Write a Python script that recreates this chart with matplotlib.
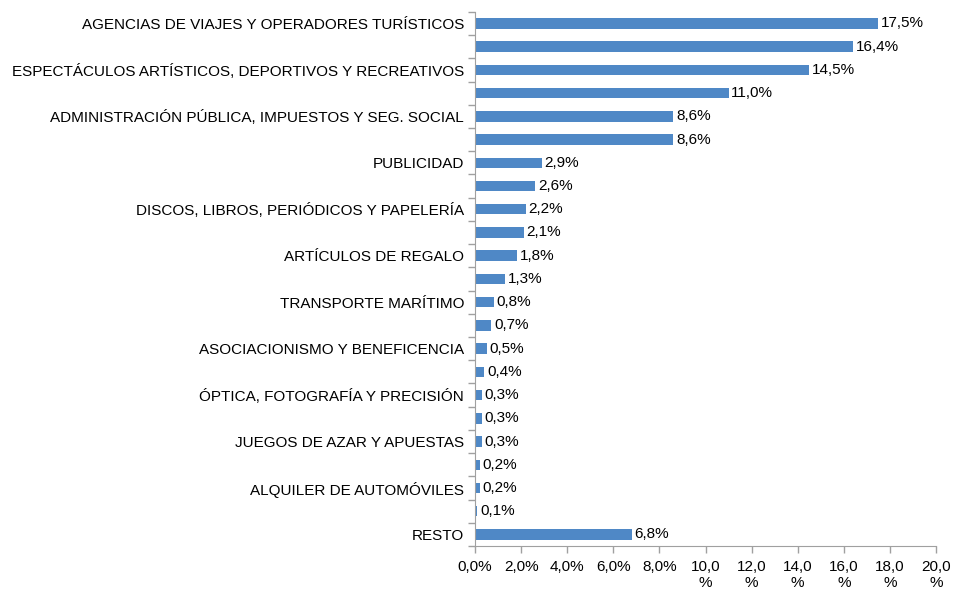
import matplotlib.pyplot as plt
from matplotlib.ticker import FixedLocator

plt.rcParams["font.family"] = ["Liberation Sans", "DejaVu Sans"]

# categories top to bottom (every other name is not printed in the original)
categories = [
    "AGENCIAS DE VIAJES Y OPERADORES TURÍSTICOS", "",
    "ESPECTÁCULOS ARTÍSTICOS, DEPORTIVOS Y RECREATIVOS", "",
    "ADMINISTRACIÓN PÚBLICA, IMPUESTOS Y SEG. SOCIAL", "",
    "PUBLICIDAD", "",
    "DISCOS, LIBROS, PERIÓDICOS Y PAPELERÍA", "",
    "ARTÍCULOS DE REGALO", "",
    "TRANSPORTE MARÍTIMO", "",
    "ASOCIACIONISMO Y BENEFICENCIA", "",
    "ÓPTICA, FOTOGRAFÍA Y PRECISIÓN", "",
    "JUEGOS DE AZAR Y APUESTAS", "",
    "ALQUILER DE AUTOMÓVILES", "",
    "RESTO",
]
values = [17.5, 16.4, 14.5, 11.0, 8.6, 8.6, 2.9, 2.6, 2.2, 2.1, 1.8, 1.3,
          0.8, 0.7, 0.5, 0.4, 0.3, 0.3, 0.3, 0.2, 0.2, 0.1, 6.8]
xticks = [0, 2, 4, 6, 8, 10, 12, 14, 16, 18, 20]
xticklabels = ["0,0%", "2,0%", "4,0%", "6,0%", "8,0%", "10,0\n%", "12,0\n%",
               "14,0\n%", "16,0\n%", "18,0\n%", "20,0\n%"]

fs = 11

fig = plt.figure(figsize=(9.56, 5.91), dpi=100)
ax = fig.add_axes([0.497, 0.076, 0.482, 0.904])

n = len(values)
ypos = list(range(n))
ax.barh(ypos, values, height=0.45, color="#4F88C6")
ax.set_ylim(n - 0.5, -0.5)
ax.set_xlim(0, 20)

for y, v in zip(ypos, values):
    ax.annotate(f"{v:.1f}%".replace(".", ","), (v, y), xytext=(2, 0),
                textcoords="offset points", va="center", ha="left",
                fontsize=fs, color="#000000")

ax.set_yticks(ypos)
ax.set_yticklabels(categories, fontsize=fs)
ax.tick_params(axis="y", length=0, pad=8)
ax.yaxis.set_minor_locator(FixedLocator([i - 0.5 for i in range(n + 1)]))
ax.tick_params(axis="y", which="minor", length=5, color="#A0A0A0", width=1)

ax.set_xticks(xticks)
ax.set_xticklabels(xticklabels, fontsize=fs, linespacing=1.2, va="top")
ax.tick_params(axis="x", length=5, color="#A0A0A0", width=1, pad=5)

for s in ["top", "right"]:
    ax.spines[s].set_visible(False)
for s in ["left", "bottom"]:
    ax.spines[s].set_color("#A0A0A0")

fig.savefig("out.png", dpi=100)
